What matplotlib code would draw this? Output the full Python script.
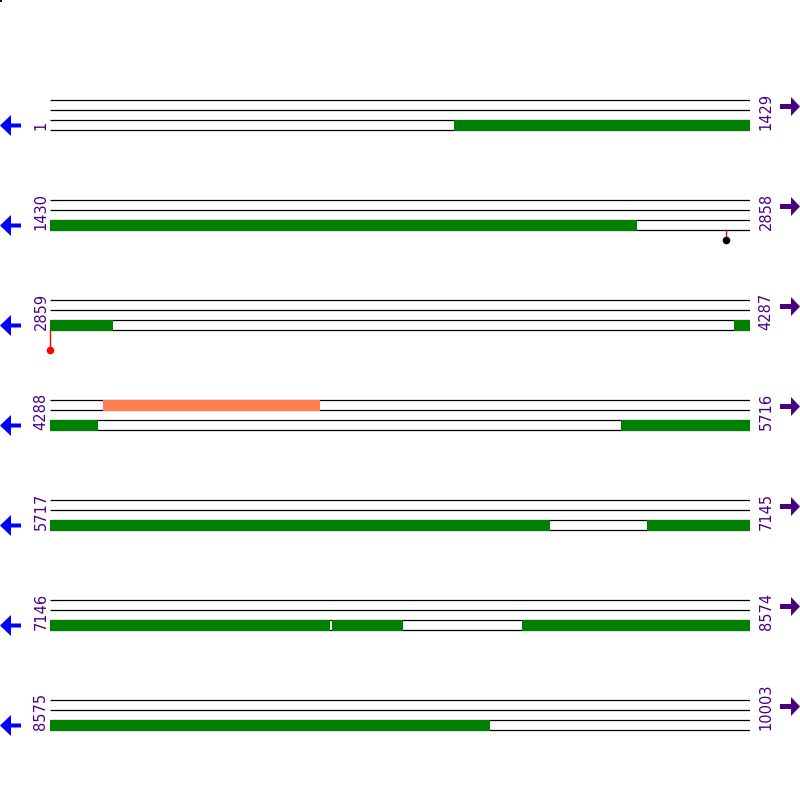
import matplotlib
matplotlib.use("Agg")
import matplotlib.pyplot as plt
from matplotlib.patches import Polygon

# ---- data ----
row_starts = [1, 1430, 2859, 4288, 5717, 7146, 8575]
row_ends = [1429, 2858, 4287, 5716, 7145, 8574, 10003]

green_starts = [826, 1430, 2859, 4255, 4288, 5454, 5717, 6936, 7146, 7722, 8110, 8575]
green_ends = [1429, 2628, 2987, 4287, 4386, 5716, 6736, 7145, 7717, 7866, 8574, 9473]
orange_starts = [4396]
orange_ends = [4839]

lolli_pos = [2810, 2859]
lolli_len = [1, 2]
lolli_head = ["black", "red"]

label_color = "#4b0082"

fig = plt.figure(figsize=(8, 8), dpi=100)
W = H = 800.0

ov = fig.add_axes([0, 0, 1, 1], zorder=0)
ov.set_xlim(0, 800)
ov.set_ylim(800, 0)
ov.axis("off")
ov.add_patch(Polygon([[0, 0], [2, 0], [2, 2], [0, 2]], closed=True, color="black", lw=0))

for k, (s, e) in enumerate(zip(row_starts, row_ends)):
    top = 100 + 100 * k
    ax = fig.add_axes([50 / W, 1 - (top + 55) / H, 700 / W, 60 / H], zorder=2)
    ax.set_xlim(s, e + 1)
    ax.set_ylim(55, -5)
    ax.axis("off")
    ax.patch.set_alpha(0)
    for t in range(4):
        ax.plot([s, e + 1], [10 * t, 10 * t], color="black", lw=0.9, solid_capstyle="butt", zorder=1)
    for gs, ge in zip(green_starts, green_ends):
        if gs >= s and ge <= e:
            ax.barh(25, ge - gs + 1, left=gs, height=11, color="#008000", zorder=3, linewidth=0)
    for os_, oe in zip(orange_starts, orange_ends):
        if os_ >= s and oe <= e:
            ax.barh(5, oe - os_ + 1, left=os_, height=11, color="#ff7f50", zorder=3, linewidth=0)
    for p, l, c in zip(lolli_pos, lolli_len, lolli_head):
        if s <= p <= e:
            ax.plot([p + 0.5, p + 0.5], [30, 30 + 10 * l], color="red", lw=1, zorder=4, clip_on=False)
            ax.scatter([p + 0.5], [30 + 10 * l], s=30, color=c, zorder=5, clip_on=False, linewidths=0)

    ov.text(41, top + 30, str(s), rotation=90, ha="center", va="bottom",
            color=label_color, fontsize=10.5, family="DejaVu Sans")
    ov.text(766, top + 30, str(e), rotation=90, ha="center", va="bottom",
            color=label_color, fontsize=10.5, family="DejaVu Sans")

    cy = top + 25.5
    ov.add_patch(Polygon([[0, cy], [11, cy - 10.5], [11, cy - 2], [21, cy - 2],
                          [21, cy + 2], [11, cy + 2], [11, cy + 10.5]],
                         closed=True, color="#0000ff", lw=0))
    cy = top + 6.5
    ov.add_patch(Polygon([[800, cy], [791, cy - 9.5], [791, cy - 2.5], [780, cy - 2.5],
                          [780, cy + 2.5], [791, cy + 2.5], [791, cy + 9.5]],
                         closed=True, color=label_color, lw=0))

fig.savefig("out.png", dpi=100)
